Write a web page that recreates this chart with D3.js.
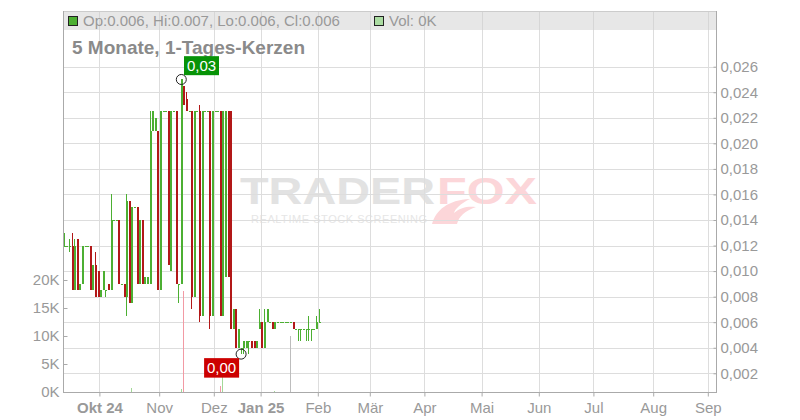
<!DOCTYPE html>
<html><head><meta charset="utf-8">
<script src="https://cdn.jsdelivr.net/npm/d3@7"></script>
<style>
body{margin:0;background:#fff}
svg{display:block;font-family:"Liberation Sans",Arial,sans-serif}
</style>
</head><body>
<svg id="chart" width="800" height="420"></svg>
<script>
// ---------- data (one candle per trading day, starting 2024-09-11) ----------
const firstDay = "2024-09-11";
const holidays = ["2024-12-24","2024-12-25","2024-12-26","2024-12-31","2025-01-01"];
const open  = [.012,.012,.012,.012,.0085,.0125,.0085,.009,.012,.012,.012,.0085,.0105,.010,.008,.0085,.0085,.009,.0085,.014,
               .014,.014,.009,.009,.008,.0155,.0075,.015,.015,.009,.014,.009,.009,.009,.021,.021,.021,.0085,.0225,.0225,
               .0225,.010,.0225,.0225,.009,.009,.0245,.0235,.0225,.0225,.008,.0225,.0225,.0065,.0225,.0225,.0225,.0065,.0225,.0225,
               .0225,.0065,.0095,.0225,.0225,.0055,.007,.004,.004,.004,.004,.0045,.0045,.0045,.004,.0055,.006,.004,.006,.006,
               .006,.0055,.006,.006,.006,.006,.006,.006,.006,.0055,.0055,.0055,.0055,.0055,.0055,.0055,.0055,.0055,.006];
const high  = [.013,.012,.0125,.013,.0125,.0125,.009,.012,.012,.012,.012,.0105,.0115,.010,.0085,.010,.0085,.009,.016,.014,
               .014,.014,.009,.009,.016,.0155,.015,.015,.015,.014,.014,.0095,.0095,.0225,.0225,.022,.021,.0225,.0225,.0225,
               .0225,.0225,.0225,.0225,.009,.025,.0245,.024,.0225,.0225,.0225,.0225,.023,.0225,.0225,.0225,.0225,.0225,.0225,.0225,
               .0225,.0225,.0225,.0225,.0225,.007,.007,.0055,.004,.0045,.0045,.0045,.0045,.0045,.0045,.007,.006,.007,.007,.006,
               .006,.006,.006,.006,.006,.006,.006,.006,.006,.0055,.0055,.0055,.0055,.0055,.0065,.0055,.0055,.0065,.007];
const low   = [.012,.012,.0115,.0085,.0085,.0085,.0085,.009,.012,.012,.0085,.0085,.008,.008,.008,.0085,.008,.0085,.0085,.014,
               .014,.009,.009,.008,.0065,.0075,.0075,.015,.009,.009,.009,.009,.009,.009,.021,.021,.0085,.0085,.0225,.0225,
               .0105,.010,.0225,.009,.0075,.009,.023,.0225,.0225,.007,.008,.0225,.006,.0065,.0225,.0225,.0055,.0065,.0225,.0225,
               .0065,.0065,.0095,.0095,.0055,.0055,.004,.004,.0035,.0035,.004,.0035,.004,.004,.004,.0055,.004,.004,.006,.006,
               .0055,.0055,.006,.006,.006,.006,.006,.006,.0055,.0055,.0045,.0045,.0055,.0045,.0045,.0045,.0055,.0055,.006];
const close = [.012,.012,.012,.0085,.012,.0085,.009,.012,.012,.012,.0085,.0105,.008,.008,.0085,.010,.0085,.0085,.014,.014,
               .014,.009,.009,.008,.0155,.0075,.015,.015,.009,.014,.009,.0095,.0095,.021,.0225,.022,.0085,.0225,.0225,.0225,
               .0105,.0225,.0225,.009,.009,.025,.023,.0225,.0225,.008,.0225,.0225,.0065,.0225,.0225,.0225,.0065,.0225,.0225,.0225,
               .0065,.0225,.0225,.0095,.0055,.007,.004,.0055,.004,.0045,.0045,.0045,.004,.004,.0045,.006,.004,.006,.007,.006,
               .0055,.006,.006,.006,.006,.006,.006,.006,.0055,.0055,.0055,.0055,.0055,.0055,.0055,.0055,.0055,.006,.006];
const volumeDay = [26, 45, 46, 60, 61, 81, 87];
const volume    = [700, 550, 18000, 1100, 2600, 150, 10000];

const priceTicks = [0.002,0.004,0.006,0.008,0.010,0.012,0.014,0.016,0.018,0.020,0.022,0.024,0.026];
const volumeTicks = [0, 5000, 10000, 15000, 20000];
const monthTicks  = ["2024-10-01","2024-11-01","2024-12-01","2025-01-01","2025-02-01","2025-03-01",
                     "2025-04-01","2025-05-01","2025-06-01","2025-07-01","2025-08-01","2025-09-01"];
const monthLabels = ["Okt 24","Nov","Dez","Jan 25","Feb","Mär","Apr","Mai","Jun","Jul","Aug","Sep"];
const boldLabels  = ["Okt 24","Jan 25"];
const title = "5 Monate, 1-Tages-Kerzen";

// ---------- setup ----------
const GREEN = "#4caf32", RED = "#b21818";
const L = 63, R = 716, T = 11, B = 392;
const svg = d3.select("#chart");
const parse = d3.timeParse("%Y-%m-%d"), key = d3.timeFormat("%Y-%m-%d");
const loc = d3.formatLocale({decimal: ",", thousands: ".", grouping: [3], currency: ["", "€"]});
const f3 = loc.format(".3f"), f2 = loc.format(".2f"), fDot = d3.format(".3f");

// trading calendar (weekdays minus exchange holidays)
const days = d3.timeDay.range(parse(firstDay), parse("2025-09-20"))
  .filter(d => d.getDay() % 6 !== 0 && !holidays.includes(key(d)));

const x = d3.scaleLinear().domain([0, 251.15]).range([L, R]);
const y = d3.scaleLinear().domain([0.002, 0.026]).range([373.3, 66.7]);
const v = d3.scaleLinear().domain([0, 20000]).range([B, 280]);
const monthIdx = monthTicks.map(m => days.findIndex(d => d >= parse(m)));

svg.append("rect").attr("width", 800).attr("height", 420).attr("fill", "#fff");

// ---------- watermark ----------
const wm = svg.append("g");
wm.append("text").attr("x", 240).attr("y", 203.5).attr("font-size", 37).attr("font-weight", "bold")
  .attr("textLength", 195).attr("lengthAdjust", "spacingAndGlyphs").attr("fill", "#e2e2e2").text("TRADER");
wm.append("path").attr("fill", "#fcd6d9")
  .attr("d", "M432,224 C436,210 448,200 470,199 C460,204 455,209 454,213 C461,207 468,206 476,207 C465,211 459,216 457,224 Z");
wm.append("text").attr("x", 437).attr("y", 203.5).attr("font-size", 37).attr("font-weight", "bold")
  .attr("textLength", 100).attr("lengthAdjust", "spacingAndGlyphs").attr("fill", "#fcd6d9").text("FOX");
wm.append("text").attr("x", 251).attr("y", 223.3).attr("font-size", 11)
  .attr("textLength", 176).attr("lengthAdjust", "spacing").attr("fill", "#e6e6e6").text("REALTIME STOCK SCREENING");

// ---------- grid ----------
const grid = svg.append("g").attr("stroke", "#dddddd").attr("stroke-width", 1).attr("shape-rendering", "crispEdges");
grid.selectAll(".h").data(priceTicks).join("line")
  .attr("x1", L).attr("x2", R).attr("y1", d => Math.round(y(d)) + 0.5).attr("y2", d => Math.round(y(d)) + 0.5);
grid.selectAll(".v").data(monthIdx).join("line")
  .attr("y1", T).attr("y2", B).attr("x1", d => Math.round(x(d)) + 0.5).attr("x2", d => Math.round(x(d)) + 0.5);

// ---------- legend bar ----------
svg.append("rect").attr("x", L).attr("y", T).attr("width", R - L).attr("height", 19)
  .attr("fill", "#cfcfcf").attr("fill-opacity", 0.5);
svg.append("line").attr("x1", L).attr("x2", R).attr("y1", T + 0.5).attr("y2", T + 0.5).attr("stroke", "#cccccc");
const last = open.length - 1;
svg.append("rect").attr("x", 68.5).attr("y", 16.5).attr("width", 9).attr("height", 9)
  .attr("fill", GREEN).attr("stroke", "#222");
svg.append("text").attr("x", 83).attr("y", 25.7).attr("font-size", 15).attr("fill", "#999")
  .text(`Op:${fDot(open[last])}, Hi:${fDot(high[last])}, Lo:${fDot(low[last])}, Cl:${fDot(close[last])}`);
svg.append("rect").attr("x", 374.5).attr("y", 16.5).attr("width", 9).attr("height", 9)
  .attr("fill", "#abdca2").attr("stroke", "#222");
svg.append("text").attr("x", 389).attr("y", 25.7).attr("font-size", 15).attr("fill", "#999").text("Vol: 0K");

// title
svg.append("text").attr("x", 72).attr("y", 54.3).attr("font-size", 19).attr("font-weight", "bold")
  .attr("fill", "#8a8a8a").text(title);

// ---------- volume ----------
const dir = i => close[i] > open[i] ? 1 : close[i] < open[i] ? -1 : 0;
svg.append("g").attr("shape-rendering", "crispEdges").selectAll("rect").data(volumeDay).join("rect")
  .attr("x", d => Math.floor(x(d + 0.5)))
  .attr("width", 1)
  .attr("y", (d, i) => v(volume[i]))
  .attr("height", (d, i) => B - v(volume[i]))
  .attr("fill", d => dir(d) > 0 ? "#a3d897" : dir(d) < 0 ? "#f29aa4" : "#bdbdbd");

// ---------- candles ----------
const cg = svg.append("g").attr("shape-rendering", "crispEdges");
const idx = d3.range(open.length);
const col = i => dir(i) < 0 ? RED : GREEN;
cg.selectAll(".w").data(idx).join("rect")
  .attr("x", i => Math.floor(x(i + 0.5)))
  .attr("width", 1)
  .attr("y", i => y(high[i]))
  .attr("height", i => Math.max(0, y(low[i]) - y(high[i])))
  .attr("fill", col);
cg.selectAll(".b").data(idx).join("rect")
  .attr("x", i => Math.floor(x(i + 0.5)))
  .attr("width", 2)
  .attr("y", i => y(Math.max(open[i], close[i])))
  .attr("height", i => Math.max(1, y(Math.min(open[i], close[i])) - y(Math.max(open[i], close[i]))))
  .attr("fill", col);

// ---------- axes ----------
const axColor = "#aaaaaa", txt = "#999";
const lines = svg.append("g").attr("stroke", axColor).attr("shape-rendering", "crispEdges");
lines.append("line").attr("x1", L + 0.5).attr("x2", L + 0.5).attr("y1", T).attr("y2", B);
lines.append("line").attr("x1", R + 0.5).attr("x2", R + 0.5).attr("y1", T).attr("y2", B);
lines.append("line").attr("x1", L).attr("x2", R + 1).attr("y1", B + 0.5).attr("y2", B + 0.5);

const ra = svg.append("g").attr("transform", `translate(${R + 0.5},0)`)
  .call(d3.axisRight(y).tickValues(priceTicks).tickSize(-3).tickPadding(4).tickFormat(f3));
const la = svg.append("g").attr("transform", `translate(${L + 0.5},0)`)
  .call(d3.axisLeft(v).tickValues(volumeTicks).tickSize(-4).tickPadding(4).tickFormat(d => d / 1000 + "K"));
const ba = svg.append("g").attr("transform", `translate(0,${B + 0.5})`)
  .call(d3.axisBottom(x).tickValues(monthIdx).tickSize(4).tickPadding(6).tickFormat((d, i) => monthLabels[i]));
[ra, la, ba].forEach(a => {
  a.select(".domain").remove();
  a.selectAll(".tick line").attr("stroke", axColor);
  a.selectAll("text").attr("fill", txt).attr("font-size", 15).attr("font-family", "Liberation Sans, Arial, sans-serif");
});
ba.selectAll("text").attr("font-weight", (d, i) => boldLabels.includes(monthLabels[i]) ? "bold" : "normal");

// ---------- high / low markers ----------
const hi = d3.maxIndex(high), lo = d3.minIndex(low);
const hx = x(hi + 0.5), hy = y(high[hi]), lx = x(lo + 0.5), ly = y(low[lo]);
svg.append("circle").attr("cx", hx).attr("cy", hy).attr("r", 5).attr("fill", "none").attr("stroke", "#222");
svg.append("circle").attr("cx", lx).attr("cy", ly).attr("r", 5).attr("fill", "none").attr("stroke", "#222");
svg.append("rect").attr("x", hx + 2.7).attr("y", hy - 23.3).attr("width", 35).attr("height", 19).attr("fill", "#079307");
svg.append("text").attr("x", hx + 20.2).attr("y", hy - 8.5).attr("text-anchor", "middle")
  .attr("font-size", 15).attr("fill", "#fff").text(f2(high[hi]));
svg.append("rect").attr("x", lx - 37).attr("y", ly + 4).attr("width", 35).attr("height", 19.5).attr("fill", "#cc0000");
svg.append("text").attr("x", lx - 19.5).attr("y", ly + 19).attr("text-anchor", "middle")
  .attr("font-size", 15).attr("fill", "#fff").text(f2(low[lo]));
</script>
</body></html>
